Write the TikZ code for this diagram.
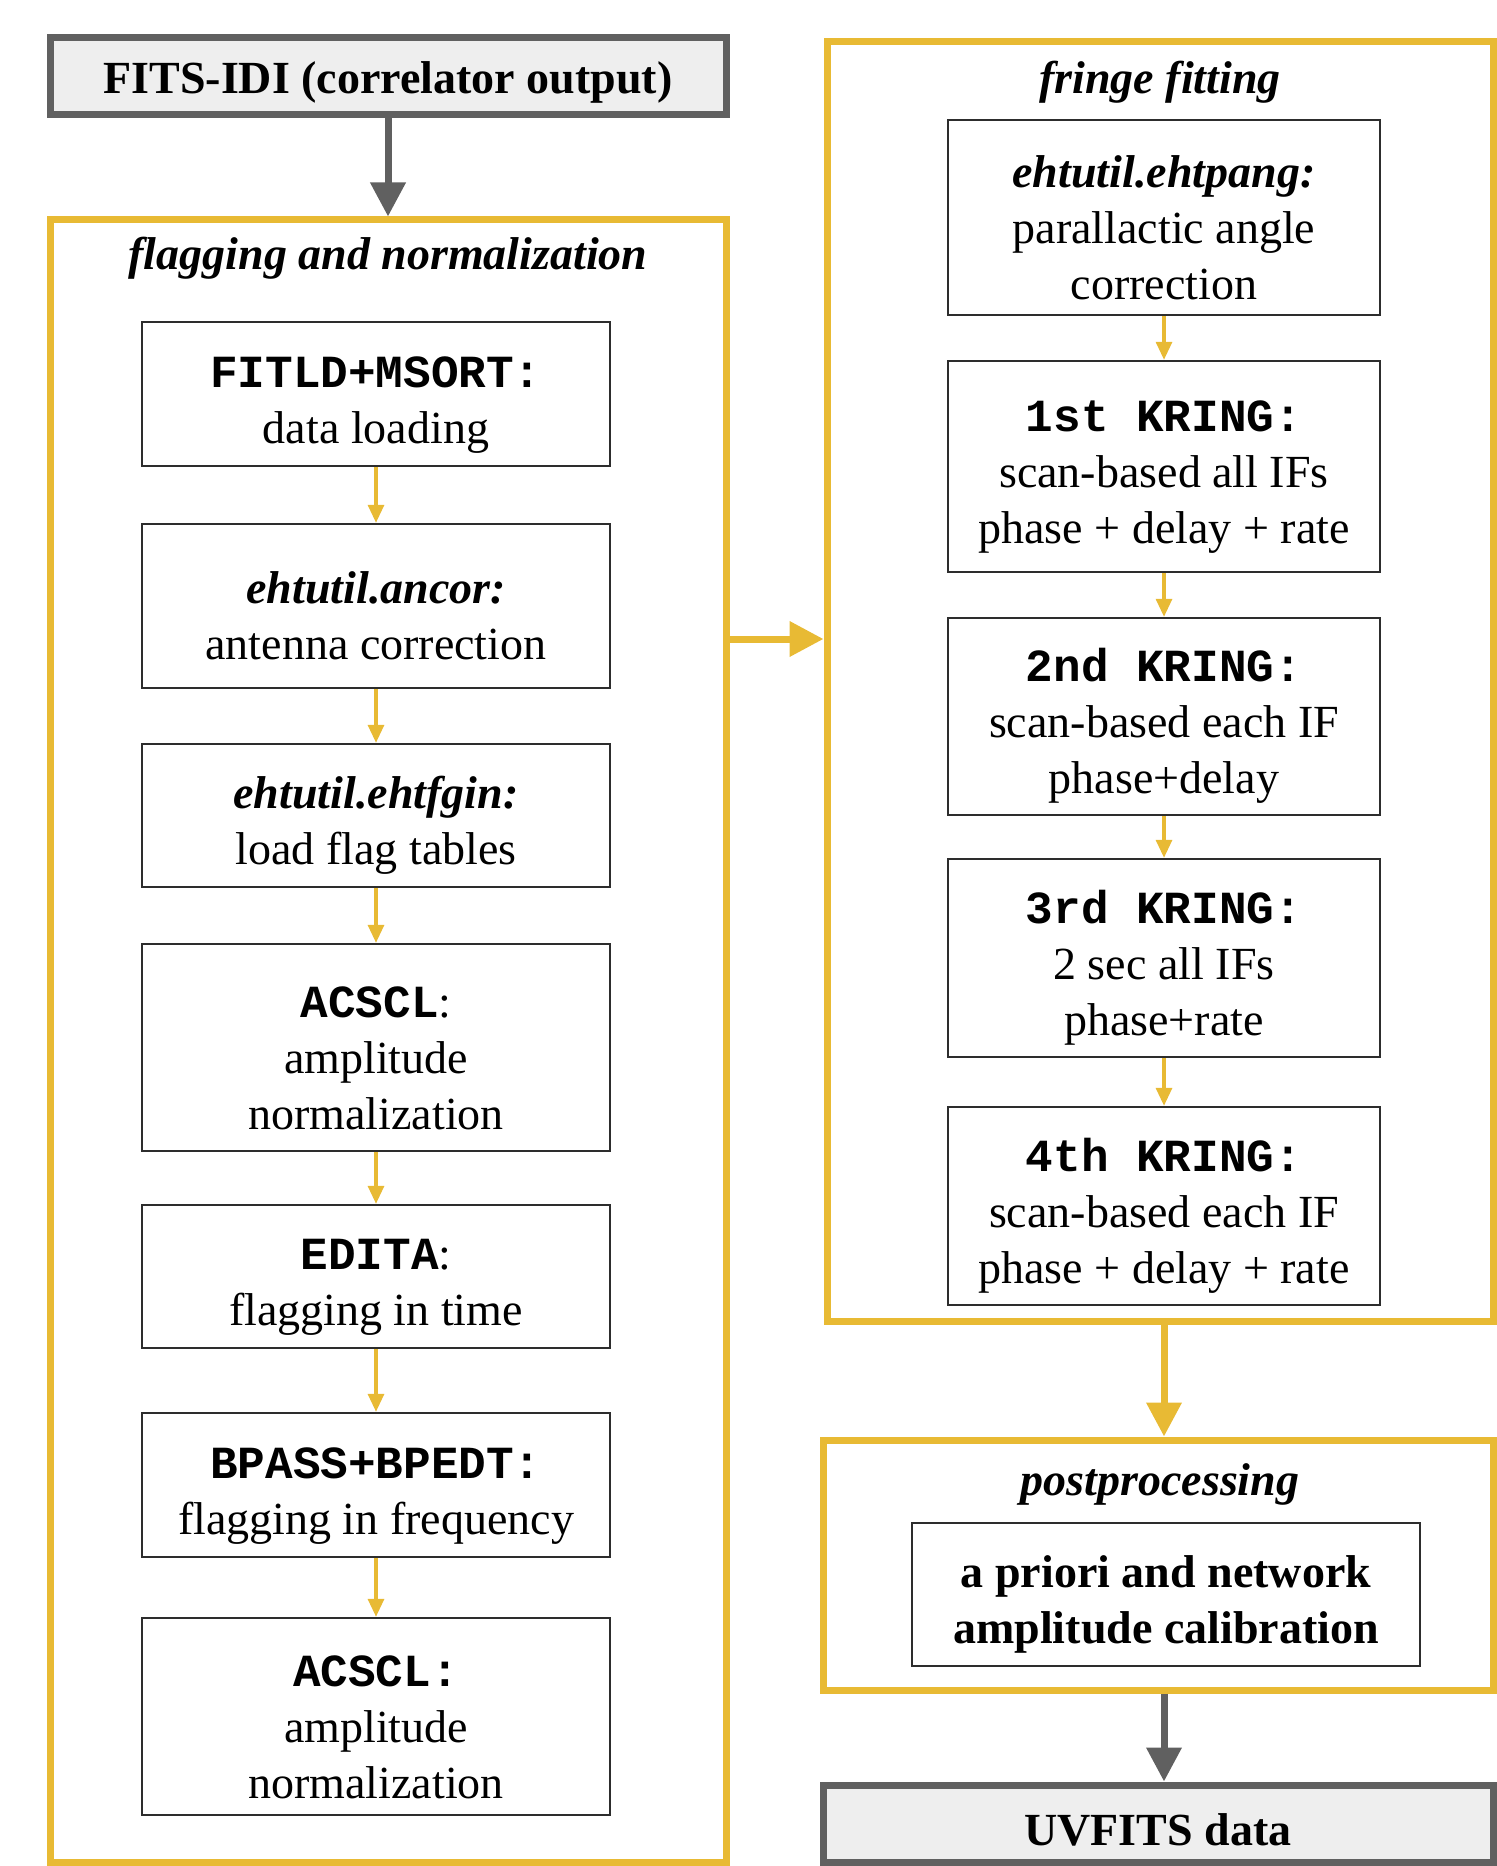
\documentclass[tikz,border=0pt]{standalone}
\usepackage{fontspec}
\setmainfont{Liberation Serif}
\newfontfamily\codefont{Liberation Mono}
\usetikzlibrary{arrows.meta}

\definecolor{gold}{RGB}{232,186,52}
\definecolor{slate}{RGB}{96,96,96}
\definecolor{pale}{RGB}{238,238,238}
\definecolor{ink}{RGB}{45,45,45}

% a tall invisible strut on the first line lowers the text block a little
\newcommand\stepstrut{\rule{0pt}{26pt}}
\newcommand\aipstask[1]{\stepstrut{\codefont\bfseries #1}}
\newcommand\pytask[1]{\stepstrut{\bfseries\itshape #1}}

\tikzset{
  every node/.style={font=\fontsize{23}{28}\selectfont, text=black},
  frame/.style={draw=gold, line width=3.5pt, inner sep=0pt},
  databox/.style={draw=slate, fill=pale, line width=3.5pt, inner sep=0pt,
    minimum width=338pt, minimum height=38.5pt, font=\fontsize{23}{28}\selectfont\bfseries,
    execute at begin node={\rule{0pt}{22pt}}},
  stagetitle/.style={font=\fontsize{23}{28}\selectfont\bfseries\itshape},
  stepbox/.style={draw=ink, line width=1.2pt, align=center, inner sep=0pt, fill=white},
  leftstep/.style={stepbox, minimum width=234pt},
  rightstep/.style={stepbox, minimum width=216pt},
  flow/.style={draw=gold, line width=1.6pt, -{Triangle[length=9pt,width=8pt]}},
  bigflow/.style={draw=gold, line width=3.5pt, -{Triangle[length=17pt,width=17pt]}},
  grayflow/.style={draw=slate, line width=3.5pt, -{Triangle[length=17pt,width=17pt]}},
}

\begin{document}
\begin{tikzpicture}[x=0.5pt, y=-0.5pt]
  \useasboundingbox (0,0) rectangle (1496,1866);

  % input and output data
  \node[databox] (F) at (388,76.5) {FITS-IDI (correlator output)};
  \node[databox, minimum width=335pt] (U) at (1158,1823.5) {UVFITS data};

  % stage frames
  \node[frame, minimum width=338pt, minimum height=821pt] (L) at (388,1041) {};
  \node[frame, minimum width=333pt, minimum height=639.5pt] (R) at (1160,681.5) {};
  \node[frame, minimum width=335pt, minimum height=125pt] (P) at (1158,1565) {};

  \node[stagetitle] (Lt) at (388,258) {flagging and normalization};
  \node[stagetitle] (Rt) at (1160,82) {fringe fitting};
  \node[stagetitle] (Pt) at (1160,1484) {postprocessing};

  % flagging and normalization steps
  \node[leftstep, minimum height=72pt] (a1) at (376,394)
    {\aipstask{FITLD+MSORT:}\\data loading};
  \node[leftstep, minimum height=82pt] (a2) at (376,606)
    {\pytask{ehtutil.ancor:}\\antenna correction};
  \node[leftstep, minimum height=71.5pt] (a3) at (376,815.5)
    {\pytask{ehtutil.ehtfgin:}\\load flag tables};
  \node[leftstep, minimum height=103.5pt] (a4) at (376,1047.5)
    {\aipstask{ACSCL}:\\amplitude\\normalization};
  \node[leftstep, minimum height=71.5pt] (a5) at (376,1276.5)
    {\aipstask{EDITA}:\\flagging in time};
  \node[leftstep, minimum height=72pt] (a6) at (376,1485)
    {\aipstask{BPASS+BPEDT:}\\flagging in frequency};
  \node[leftstep, minimum height=98.5pt] (a7) at (376,1716.5)
    {\aipstask{ACSCL:}\\amplitude\\normalization};

  % fringe fitting steps
  \node[rightstep, minimum height=97.5pt] (k1) at (1164,217.5)
    {\pytask{ehtutil.ehtpang:}\\parallactic angle\\correction};
  \node[rightstep, minimum height=105.5pt] (k2) at (1164,466.5)
    {\aipstask{1st KRING:}\\scan-based all IFs\\phase + delay + rate};
  \node[rightstep, minimum height=98.5pt] (k3) at (1164,716.5)
    {\aipstask{2nd KRING:}\\scan-based each IF\\phase+delay};
  \node[rightstep, minimum height=99pt] (k4) at (1164,958)
    {\aipstask{3rd KRING:}\\2 sec all IFs\\phase+rate};
  \node[rightstep, minimum height=99pt] (k5) at (1164,1206)
    {\aipstask{4th KRING:}\\scan-based each IF\\phase + delay + rate};

  % postprocessing step
  \node[stepbox, minimum width=254pt, minimum height=71.5pt,
        font=\fontsize{23}{28}\selectfont\bfseries] (c1) at (1166,1594.5)
    {\stepstrut a priori and network\\amplitude calibration};

  % connectors
  \draw[grayflow] (F.south) -- (L.north);
  \foreach \s/\t in {a1/a2,a2/a3,a3/a4,a4/a5,a5/a6,a6/a7,k1/k2,k2/k3,k3/k4,k4/k5}
    \draw[flow] (\s.south) -- (\t.north);
  \coordinate (hy) at (0,639);
  \draw[bigflow] (L.east |- hy) -- (R.west |- hy);
  \draw[bigflow] (R.south -| k5.south) -- (P.north -| k5.south);
  \draw[grayflow] (P.south -| k5.south) -- (U.north -| k5.south);
\end{tikzpicture}
\end{document}
